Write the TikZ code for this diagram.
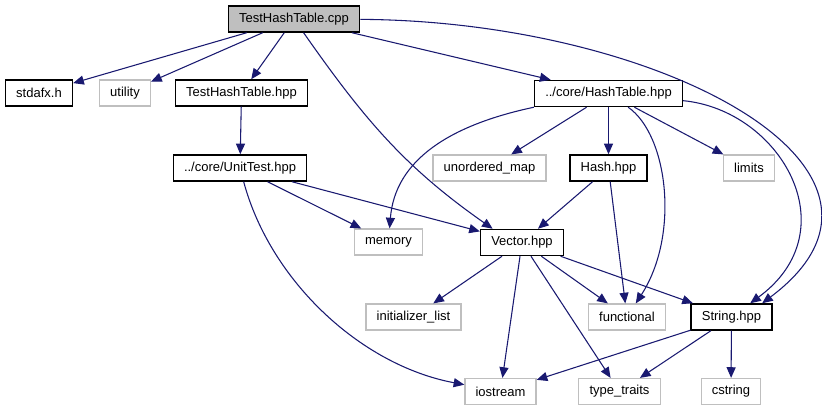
\documentclass[tikz,border=0pt]{standalone}
\usepackage{fontspec}
\setmainfont{Liberation Sans}
\usetikzlibrary{arrows.meta}

\definecolor{edgeblue}{HTML}{191970}
\definecolor{boxgray}{HTML}{BFBFBF}

\tikzset{
  file/.style={draw=black, line width=1.1pt, minimum height=19.5pt,
    inner xsep=8pt, inner ysep=0pt, font=\fontsize{9.75}{11.7}\selectfont},
  sysfile/.style={file, draw=boxgray, line width=0.9pt},
  rootfile/.style={file, fill=boxgray},
  edge/.style={edgeblue, line width=0.8pt, -{Triangle[length=8pt,width=6.8pt]}}
}

\begin{document}
\begin{tikzpicture}[x=0.75pt,y=-0.75pt]
\useasboundingbox (0,0) rectangle (822,411);

  % Define the files
  \node[rootfile] (cpp) at (294,19) {TestHashTable.cpp};
  \node[file] (stdafx) at (39,93) {stdafx.h};
  \node[sysfile] (utility) at (125,93) {utility};
  \node[file] (testhpp) at (241.5,93) {TestHashTable.hpp};
  \node[file] (hashtable) at (608.5,93.5) {../core/HashTable.hpp};
  \node[file] (unittest) at (240,168) {../core/UnitTest.hpp};
  \node[sysfile] (unorderedmap) at (489.5,168) {unordered\_map};
  \node[file] (hash) at (608.5,168) {Hash.hpp};
  \node[sysfile] (limits) at (749,168) {limits};
  \node[sysfile] (memory) at (388.5,242) {memory};
  \node[file] (vector) at (522,242.5) {Vector.hpp};
  \node[sysfile] (initlist) at (413.5,317) {initializer\_list};
  \node[sysfile] (functional) at (627,317) {functional};
  \node[file] (string) at (731.5,317) {String.hpp};
  \node[sysfile] (iostream) at (500.5,391.5) {iostream};
  \node[sysfile] (typetraits) at (619.5,391.5) {type\_traits};
  \node[sysfile] (cstring) at (731,391.5) {cstring};

  % Draw the straight includes
  \foreach \from/\to in {cpp/stdafx, cpp/utility, cpp/testhpp, cpp/hashtable,
      testhpp/unittest, unittest/memory, unittest/vector,
      hashtable/unorderedmap, hashtable/hash, hashtable/limits,
      hash/vector, hash/functional,
      vector/initlist, vector/iostream, vector/typetraits, vector/functional, vector/string,
      string/iostream, string/typetraits, string/cstring} {
    \draw[edge] (\from) -- (\to);
  }

  % Draw the curved includes
  \draw[edge] (cpp) to[out=-55,in=145] ([xshift=-22pt]vector.north);
  \draw[edge] (cpp) .. controls (660,21) and (940,170) .. ([xshift=23pt]string.north);
  \draw[edge] (hashtable) .. controls (780,110) and (850,230) .. (string);
  \draw[edge] (hashtable.south west) .. controls (450,125) and (395,160) .. (memory);
  \draw[edge] (hashtable) .. controls (668,135) and (680,235) .. (functional);
  \draw[edge] (unittest) .. controls (270,280) and (360,365) .. (iostream);
\end{tikzpicture}
\end{document}
